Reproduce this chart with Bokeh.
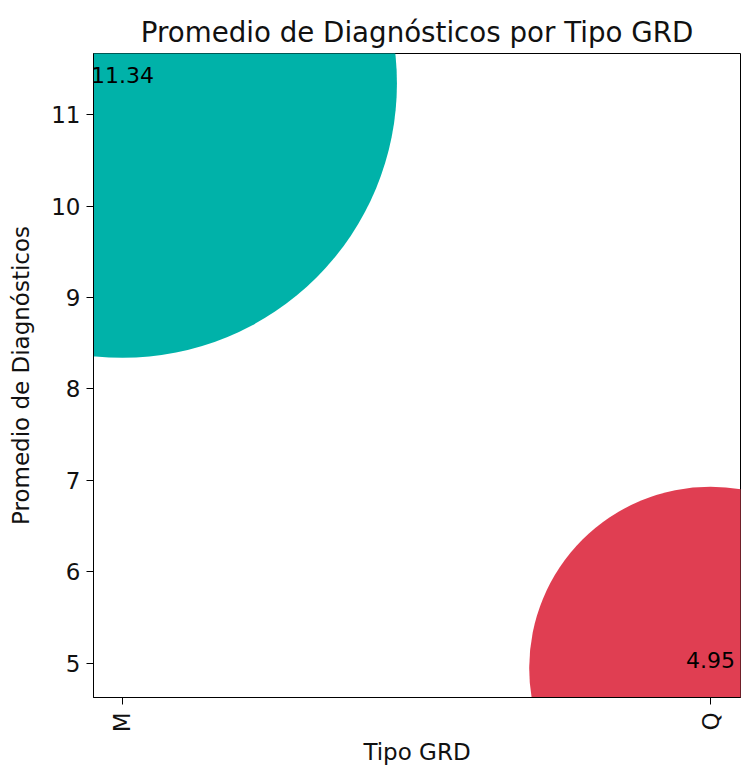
import numpy as np
from bokeh.plotting import figure
from bokeh.models import ColumnDataSource, FixedTicker, Range1d
from bokeh.embed import file_html
from bokeh.resources import INLINE
from bokeh.core.properties import value

categories = ["M", "Q"]
promedios = [11.34, 4.95]
colores = ["#00B2A9", "#E03E52"]
y_ticks = [5, 6, 7, 8, 9, 10, 11]

FONT = "DejaVu Sans"
xpos = list(range(len(categories)))
sizes = [163 * np.sqrt(v) for v in promedios]
labels = [f"{v:.2f}" for v in promedios]

src = ColumnDataSource(dict(x=xpos, y=promedios, size=sizes, color=colores, label=labels))

p = figure(frame_width=647, frame_height=644, output_backend="svg", toolbar_location=None,
           x_range=Range1d(-0.0493, 1.051), y_range=Range1d(4.628, 11.667),
           min_border_left=93, min_border_top=53, min_border_right=1, min_border_bottom=69)

p.scatter("x", "y", size="size", color="color", line_color=None, source=src)
p.text("x", "y", text="label", source=src, text_align="center", text_baseline="bottom",
       text_font=value(FONT), text_font_size="22px", text_color="black")

p.title.text = "Promedio de Diagnósticos por Tipo GRD"
p.title.align = "center"
p.title.text_font = FONT
p.title.text_font_size = "27.7px"
p.title.text_font_style = "normal"
p.title.text_color = "#111111"
p.title.standoff = 9

p.xaxis.ticker = FixedTicker(ticks=xpos)
p.xaxis.major_label_overrides = {i: c for i, c in zip(xpos, categories)}
p.xaxis.major_label_orientation = np.pi / 2
p.yaxis.ticker = FixedTicker(ticks=y_ticks)
p.xaxis.axis_label = "Tipo GRD"
p.yaxis.axis_label = "Promedio de Diagnósticos"

for ax in (p.xaxis[0], p.yaxis[0]):
    ax.axis_label_text_font = FONT
    ax.axis_label_text_font_size = "23px"
    ax.axis_label_text_font_style = "normal"
    ax.axis_label_text_color = "#111111"
    ax.major_label_text_font = FONT
    ax.major_label_text_font_size = "23px"
    ax.major_label_text_color = "#111111"
    ax.axis_line_color = "black"
    ax.major_tick_line_color = "black"
    ax.major_tick_out = 7
    ax.major_tick_in = 0
    ax.minor_tick_line_color = None

p.xaxis.major_label_standoff = 8
p.xaxis.axis_label_standoff = 4
p.yaxis.major_label_standoff = 6
p.yaxis.axis_label_standoff = 14

p.xgrid.grid_line_color = None
p.ygrid.grid_line_color = None
p.outline_line_color = "black"
p.outline_line_alpha = 1

open("out.html", "w").write(file_html(p, INLINE))
